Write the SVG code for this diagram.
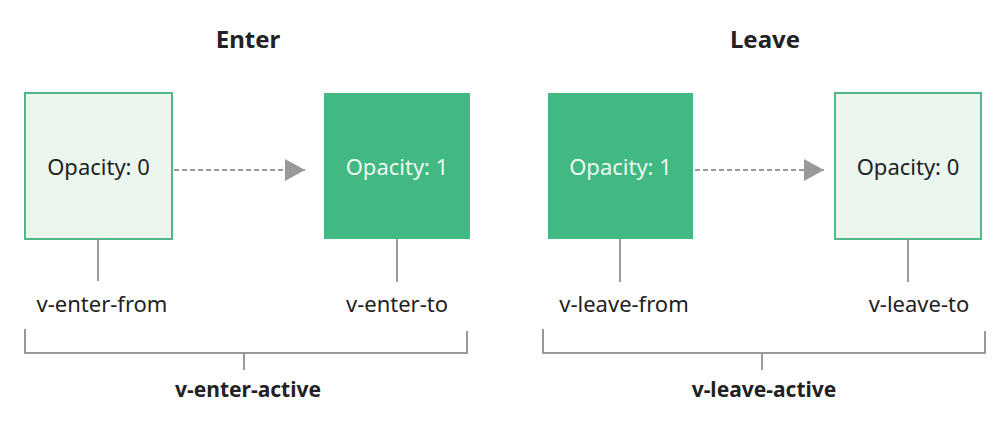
<svg xmlns="http://www.w3.org/2000/svg" width="997" height="430" viewBox="0 0 997 430">
<defs>
<style>
text{font-family:"Noto Sans","Open Sans","Liberation Sans",sans-serif;text-anchor:middle;fill:#222}
.title{font-size:24px;font-weight:bold}
.label{font-size:22px}
.active{font-size:21px;font-weight:bold}
.box-light{fill:#eaf6ee;stroke:#50b788;stroke-width:2}
.box-dark{fill:#42b883}
.txt-light{fill:#eefaf2;font-size:22px}
.txt-dark{fill:#222;font-size:22px}
.conn{stroke:#999;stroke-width:2;fill:none}
.dash{stroke:#999;stroke-width:2;stroke-dasharray:5 3;fill:none}
</style>
<marker id="arrow" markerWidth="20" markerHeight="22" refX="20" refY="11" orient="auto" markerUnits="userSpaceOnUse">
<path d="M0,0 L20,11 L0,22 Z" fill="#999"/>
</marker>
</defs>
<rect width="997" height="430" fill="#fff"/>
<text class="title" x="248" y="48">Enter</text>
<text class="title" x="765" y="48">Leave</text>
<g id="enter-from">
<rect class="box-light" x="25" y="93" width="147" height="146"/>
<text class="txt-dark" x="98.5" y="175">Opacity: 0</text>
</g>
<g id="enter-to">
<rect class="box-dark" x="324" y="93" width="146" height="146"/>
<text class="txt-light" x="397" y="175">Opacity: 1</text>
</g>
<g id="leave-from">
<rect class="box-dark" x="548" y="93" width="145" height="146"/>
<text class="txt-light" x="620.5" y="175">Opacity: 1</text>
</g>
<g id="leave-to">
<rect class="box-light" x="835" y="93" width="146" height="146"/>
<text class="txt-dark" x="908" y="175">Opacity: 0</text>
</g>
<g id="connectors">
<path class="dash" d="M174,170 H305" marker-end="url(#arrow)"/>
<path class="dash" d="M695,170 H824" marker-end="url(#arrow)"/>
<path class="conn" d="M98,239 V281"/>
<path class="conn" d="M397,239 V282"/>
<path class="conn" d="M620,239 V282"/>
<path class="conn" d="M908,239 V282"/>
<path class="conn" d="M25,329 V353 H467 V331"/>
<path class="conn" d="M244,353 V370"/>
<path class="conn" d="M543,329 V353 H985 V331"/>
<path class="conn" d="M762,353 V370"/>
</g>
<g id="labels">
<text class="label" x="102" y="312">v-enter-from</text>
<text class="label" x="397" y="312">v-enter-to</text>
<text class="label" x="624" y="312">v-leave-from</text>
<text class="label" x="919" y="312">v-leave-to</text>
<text class="active" x="248" y="397">v-enter-active</text>
<text class="active" x="764" y="397">v-leave-active</text>
</g>
</svg>
